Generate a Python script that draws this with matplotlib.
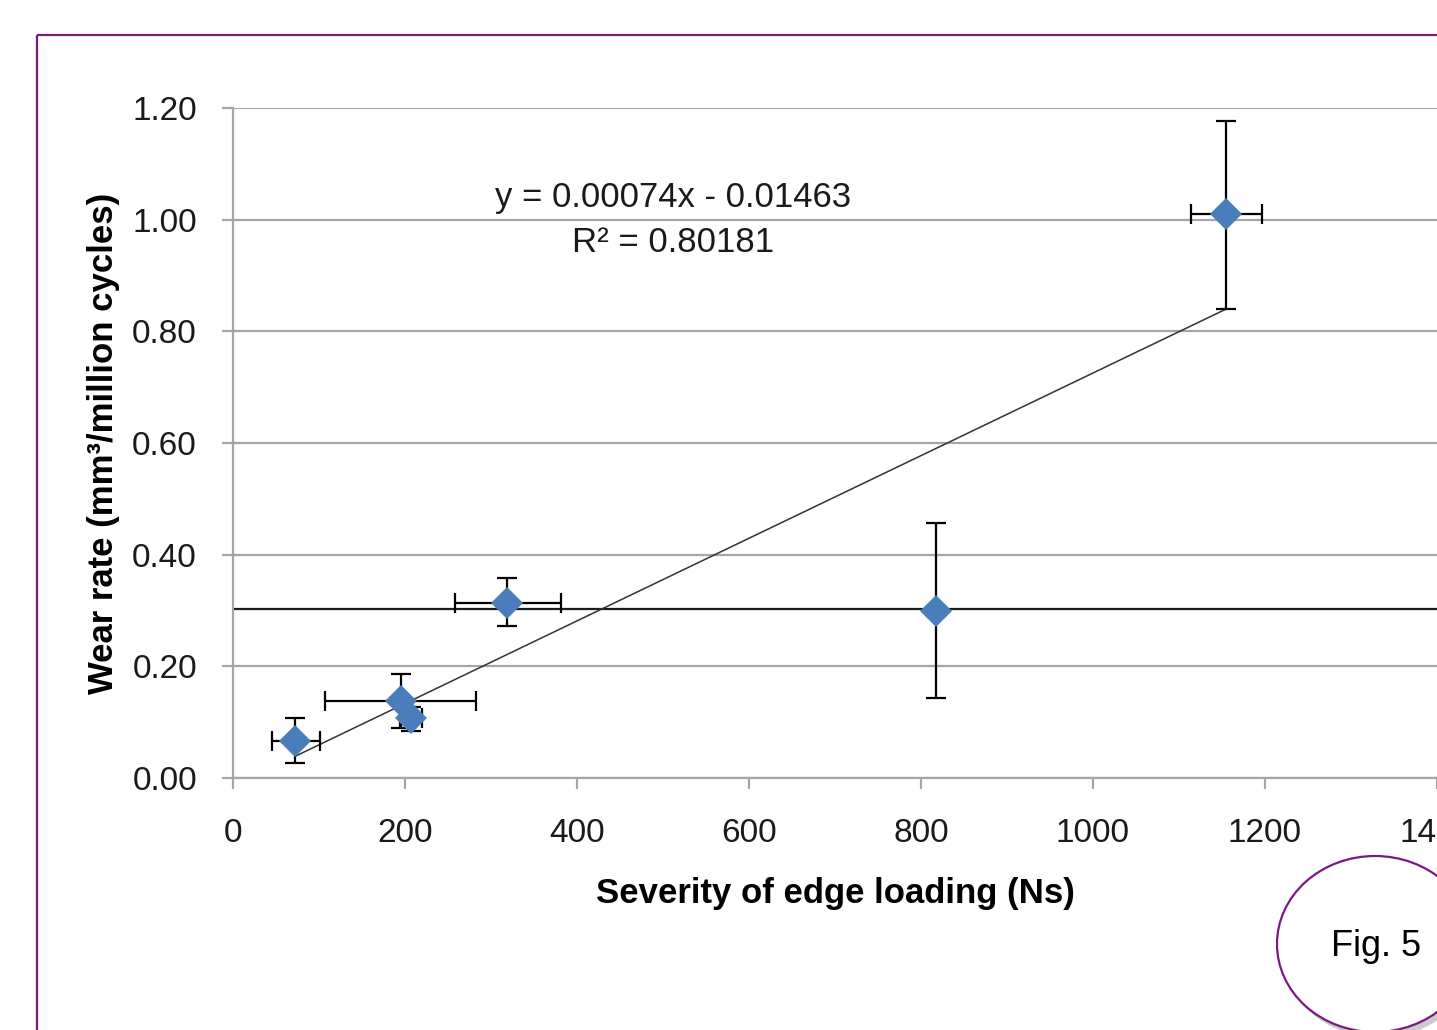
import matplotlib
matplotlib.use("Agg")
import matplotlib.pyplot as plt
import matplotlib.patches as mpatches
import matplotlib.patheffects as pe
import numpy as np

plt.rcParams['font.family'] = ['Liberation Sans', 'DejaVu Sans']

# data
severity = [72, 195, 207, 319, 817, 1155]
wear_rate = [0.066, 0.138, 0.107, 0.314, 0.299, 1.011]
x_err_low = [27, 88, 13, 61, 0, 41]
x_err_high = [29, 88, 13, 62, 0, 42]
y_err_low = [0.039, 0.048, 0.023, 0.042, 0.156, 0.171]
y_err_high = [0.042, 0.048, 0.020, 0.044, 0.158, 0.166]

slope = 0.00074
intercept = -0.01463
r_squared = 0.80181
mean_line = 0.303

x_ticks = [0, 200, 400, 600, 800, 1000, 1200, 1400]
y_ticks = [0.0, 0.2, 0.4, 0.6, 0.8, 1.0, 1.2]

W, H = 1437, 1030
fig = plt.figure(figsize=(W / 100, H / 100), dpi=100)

# purple frame around the chart (runs off the right and bottom)
frame = mpatches.Rectangle((37 / W, 1 - 35 / H), 2, -2, transform=fig.transFigure,
                           fill=False, edgecolor='#7a1a7e', linewidth=1.6, zorder=0)
fig.patches.append(frame)

ax = fig.add_axes([233 / W, 1 - 778 / H, 1 - 233 / W, (778 - 108) / H])
ax.set_xlim(0, 1400)
ax.set_ylim(0, 1.2)

grid_col = '#a6a6a6'
ax.set_yticks(y_ticks)
ax.set_xticks(x_ticks)
ax.set_yticklabels(['%.2f' % v for v in y_ticks])
ax.set_xticklabels([str(v) for v in x_ticks])
ax.yaxis.grid(True, color=grid_col, linewidth=1.6)
ax.set_axisbelow(True)
for side in ['top', 'right']:
    ax.spines[side].set_visible(False)
for side in ['left', 'bottom']:
    ax.spines[side].set_color(grid_col)
    ax.spines[side].set_linewidth(1.6)
ax.tick_params(axis='both', direction='out', length=8, width=1.6, color=grid_col,
               labelsize=24, labelcolor='#1a1a1a')
ax.tick_params(axis='y', pad=18)
ax.tick_params(axis='x', pad=21)

# horizontal reference line
ax.axhline(mean_line, color='#1a1a1a', linewidth=1.6, zorder=2)

# linear trend line
fit_x = np.array([min(severity), max(severity)])
ax.plot(fit_x, slope * fit_x + intercept, color='#333333', linewidth=1.1, zorder=2)

ax.errorbar(severity, wear_rate,
            xerr=[x_err_low, x_err_high], yerr=[y_err_low, y_err_high],
            fmt='none', ecolor='black', elinewidth=1.6, capsize=7, capthick=1.6, zorder=3)
ax.plot(severity, wear_rate, linestyle='none', marker='D', markersize=16,
        color='#4a7ebb', markeredgewidth=0, zorder=4)

ax.text(512, 1.0, 'y = 0.00074x - 0.01463\nR\u00b2 = 0.%d' % round(r_squared * 1e5),
        ha='center', va='center', fontsize=25, linespacing=1.45, color='#1a1a1a')

ax.set_xlabel('Severity of edge loading (Ns)', fontsize=25, fontweight='bold', labelpad=20)
ax.set_ylabel('Wear rate (mm\u00b3/million cycles)', fontsize=25, fontweight='bold', labelpad=9)

# the "Fig. 5" bubble
ell = mpatches.Ellipse((1375 / W, 1 - 944 / H), 196 / W, 176 / H, transform=fig.transFigure,
                       facecolor='white', edgecolor='#7a1a7e', linewidth=1.6, zorder=5,
                       path_effects=[pe.SimplePatchShadow(offset=(3, -4), shadow_rgbFace='#999999', alpha=0.5),
                                     pe.Normal()])
fig.patches.append(ell)
fig.text(1376 / W, 1 - 946 / H, 'Fig. 5', ha='center', va='center', fontsize=26, zorder=6)

fig.savefig('out.png', dpi=100)
